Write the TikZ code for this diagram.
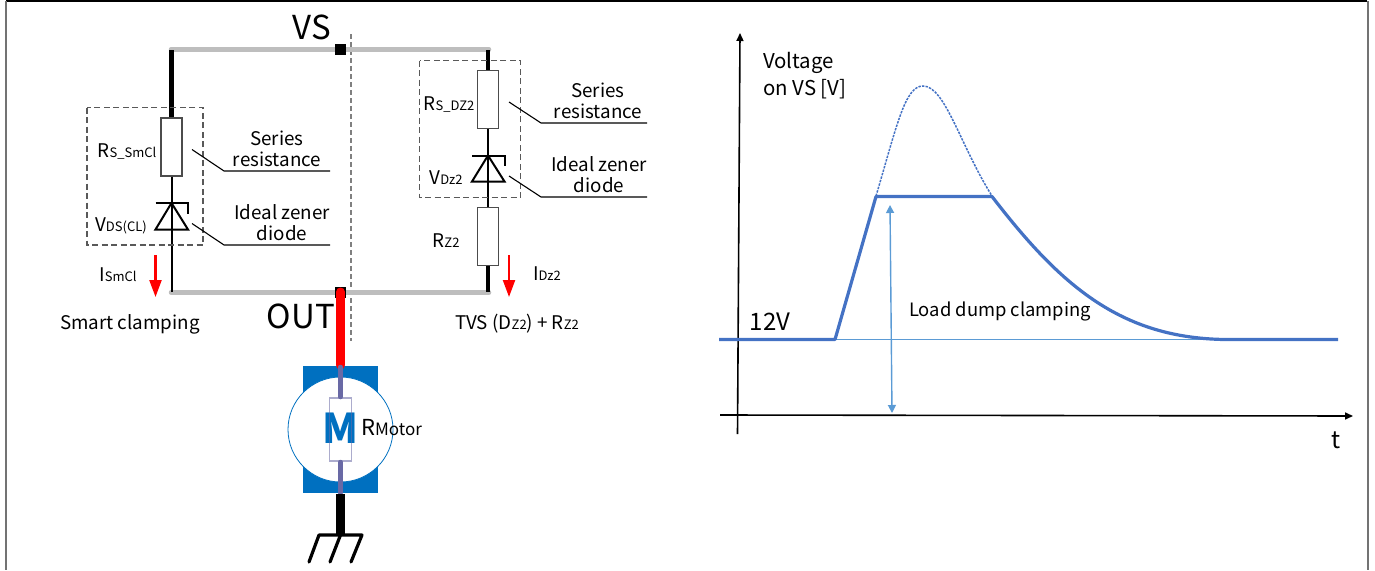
\documentclass[tikz,border=0pt]{standalone}
\usepackage{fontspec}
\setmainfont{Noto Sans CJK SC}
\usetikzlibrary{arrows.meta,positioning}
\definecolor{wirecol}{RGB}{190,190,190}
\definecolor{motorcol}{RGB}{0,112,192}
\definecolor{curvecol}{RGB}{68,114,196}
\definecolor{lightcol}{RGB}{91,155,213}
\definecolor{pincol}{RGB}{105,105,165}
\newcommand{\subtxt}[2]{#1{\fontsize{13}{13}\selectfont #2}}
\tikzset{
  lbl/.style={inner sep=0pt,font=\fontsize{18.8}{21}\selectfont,align=center},
  big/.style={inner sep=0pt,font=\fontsize{33}{33}\selectfont},
  res/.style={draw=black!70,fill=white,line width=1.1pt,minimum width=21pt,minimum height=58pt,inner sep=0pt},
  dbox/.style={draw=black!65,dash pattern=on 6pt off 3.5pt,line width=1.2pt},
  wire/.style={wirecol,line width=4.5pt,line cap=round},
  lead/.style={black,line width=2pt},
  ptr/.style={black,line width=1.1pt},
  ilead/.style={red,line width=2.2pt,-{Triangle[length=17pt,width=12pt]}},
}
\begin{document}
\begin{tikzpicture}[x=1pt,y=-1pt]
\useasboundingbox (0,0) rectangle (1375,570);

% frame
\draw [black, line width=1.4pt] (6,1) -- (1367,1);
\draw [black!55, line width=2pt] (6,1) -- (6,570);
\draw [black!55, line width=2pt] (1367.5,1) -- (1367.5,570);

% centre line
\draw [black!50, dash pattern=on 5pt off 3pt, line width=1.2pt] (351,34) -- (351,341);

% rails
\draw [wire] (171,49.5) -- (489,49.5);
\draw [wire] (171,292.5) -- (489,292.5);
\node (vs) [fill=black, minimum size=11pt, inner sep=0pt] at (340.5,49.5) {};
\node (out) [fill=black, minimum size=11pt, inner sep=0pt] at (340.5,292.5) {};
\node [big] at (312,27) {VS};
\node [big] at (301,316) {OUT};

% left branch
\node (rs1) [res] at (171.5,147) {};
\draw [black, line width=4.5pt] (171.5,50) -- (rs1.north);
\draw [lead] (rs1.south) -- (171.5,292);
\draw [lead] (155.5,203) -- (188,203) -- (188,214);
\draw [lead] (155.5,229.5) -- (188,229.5) -- (171.5,203) -- cycle;
\draw [dbox] (87,107.5) rectangle (203,245);
\node (rs1lab) [lbl] at (127,152) {\subtxt{R}{S\_SmCl}};
\node (vd1lab) [lbl] at (121,226) {\subtxt{V}{DS(CL)}};
\node (ser1) [lbl] at (277,149) {Series\\resistance};
\node (zen1) [lbl] at (282,223) {Ideal zener\\diode};
\draw [ptr] (192,149.5) -- (224,171) -- (330,171);
\draw [ptr] (192,223.5) -- (224,245) -- (330,245);
\coordinate (i1a) at (155.5,255);
\coordinate (i1b) at (155.5,297);
\draw [ilead] (i1a) -- (i1b);
\node (i1lab) [lbl] at (118,275) {\subtxt{I}{SmCl}};
\node (smart) [lbl] at (130,324) {Smart clamping};

% right branch
\node (rs2) [res] at (488,99.5) {};
\node (rz2) [res] at (488,236.5) {};
\draw [black, line width=4.5pt] (488,50) -- (rs2.north);
\draw [lead] (rs2.south) -- (rz2.north);
\draw [black, line width=4.5pt] (rz2.south) -- (488,292);
\draw [lead] (472,155.5) -- (504.5,155.5) -- (504.5,166);
\draw [lead] (472,181.5) -- (504.5,181.5) -- (488,155.5) -- cycle;
\draw [dbox] (419.5,60.5) rectangle (520.5,197.5);
\node (rs2lab) [lbl] at (449,105) {\subtxt{R}{S\_DZ2}};
\node (vd2lab) [lbl] at (446,178) {\subtxt{V}{Dz2}};
\node (rz2lab) [lbl] at (446,241) {\subtxt{R}{Z2}};
\node (ser2) [lbl] at (598,101) {Series\\resistance};
\node (zen2) [lbl] at (599,175) {Ideal zener\\diode};
\draw [ptr] (509,102) -- (541,123) -- (647,123);
\draw [ptr] (509,176) -- (541,197) -- (647,197);
\coordinate (i2a) at (509,255);
\coordinate (i2b) at (509,297);
\draw [ilead] (i2a) -- (i2b);
\node (i2lab) [lbl] at (547,274) {\subtxt{I}{Dz2}};
\node (tvs) [lbl] at (517,324) {TVS (D\subtxt{}{Z2}) + R\subtxt{}{Z2}};

% motor
\node (mbody) [fill=motorcol, minimum width=75pt, minimum height=127pt, inner sep=0pt] at (340.5,429.5) {};
\node (mdisc) [circle, draw=motorcol, fill=white, line width=.8pt, minimum size=105pt, inner sep=0pt] at (340.5,429.5) {};
\node (mlet) [inner sep=0pt, text=motorcol, font=\fontsize{41}{41}\selectfont\bfseries] at (340.5,428) {M};
\node (mres) [draw=pincol, draw opacity=.55, line width=1.2pt, minimum width=22pt, minimum height=63pt, inner sep=0pt] at (340.5,429.5) {};
\node (rmot) [inner sep=0pt, font=\fontsize{22}{22}\selectfont, anchor=west] at (361,428) {R{\fontsize{17}{17}\selectfont Motor}};
\draw [red, line width=9pt, line cap=round] (340.5,292) -- (340.5,365);
\draw [pincol, line width=4.5pt, line cap=round] (340.5,367) -- (340.5,397);
\draw [pincol, line width=4.5pt, line cap=round] (340.5,462) -- (340.5,493);
\draw [black, line width=8.5pt] (340.5,494) -- (340.5,535);

% ground
\draw [black, line width=3.2pt, line cap=round, line join=round] (309,562) -- (319,535) -- (362,535) -- (351,562);
\draw [black, line width=3.2pt, line cap=round] (340.5,535) -- (330,562);

% axes
\draw [black, line width=1.6pt, -{Triangle[length=8pt,width=7pt]}] (737.5,434) -- (740,33);
\draw [black, line width=1.6pt, -{Triangle[length=8pt,width=7pt]}] (720,415) -- (1353,416);
\node (ylab) [lbl, font=\fontsize{20.4}{27}\selectfont, align=left, anchor=north west] at (763,52) {Voltage\\on VS [V]};
\node (tlab) [lbl, font=\fontsize{24}{24}\selectfont] at (1336,440) {t};
\node (v12) [lbl, font=\fontsize{24}{24}\selectfont] at (770,322) {12V};
\node (ldc) [lbl, font=\fontsize{18.4}{21}\selectfont] at (1000,311.5) {Load dump clamping};

% curve
\draw [lightcol, line width=.9pt] (836,339.5) -- (1338,339.5);
\draw [curvecol, dash pattern=on 2.4pt off 1.2pt, line width=1.5pt] (876,196) .. controls (897,125) and (905,86) .. (923,86) .. controls (945,86) and (960,145) .. (992,196);
\draw [curvecol, line width=3.2pt, line join=round] (719,339.5) -- (835,339.5) -- (876,196.5) -- (992,196.5) .. controls (1060,285) and (1120,338) .. (1225,339.5) -- (1338,339.5);
\draw [lightcol, line width=1.4pt, {Triangle[length=8pt,width=8pt]}-{Triangle[length=8pt,width=8pt]}] (890,205) -- (892,413);
\end{tikzpicture}
\end{document}
